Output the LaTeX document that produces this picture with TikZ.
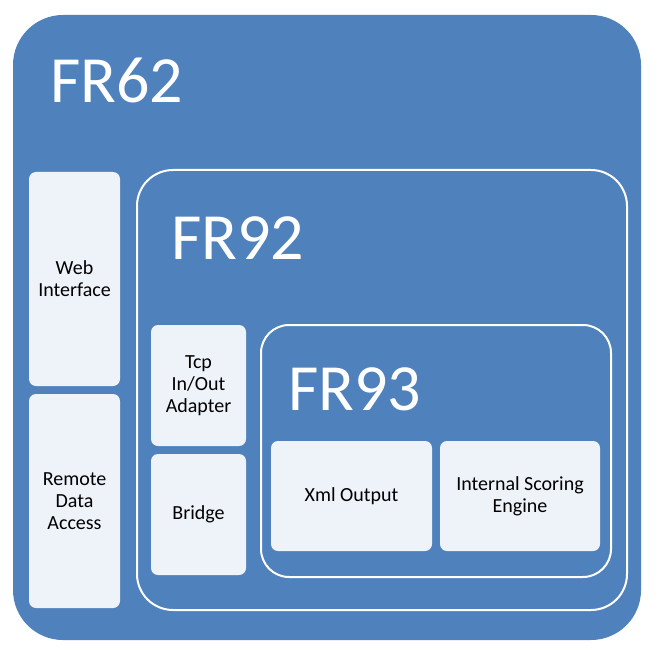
\documentclass[tikz,border=0pt]{standalone}
\usepackage{fontspec}
\setmainfont{Carlito}
\usetikzlibrary{positioning}
\definecolor{FrBlue}{HTML}{4F81BD}
\definecolor{BoxFill}{HTML}{EEF3FA}

\begin{document}
\begin{tikzpicture}[x=1pt, y=-1pt]
  \useasboundingbox (0,0) rectangle (660,660);
  \tikzset{FrameStyle/.style = {shape=rectangle, inner sep=0pt, fill=FrBlue}}
  \tikzset{InnerFrameStyle/.style = {shape=rectangle, inner sep=0pt, draw=white, line width=2pt}}
  \tikzset{PartStyle/.style = {shape=rectangle, inner sep=0pt, fill=BoxFill, rounded corners=7pt,
                               text=black, align=center, font=\fontsize{20}{22}\selectfont}}
  \tikzset{TitleStyle/.style = {anchor=base west, inner sep=0pt, text=white, font=\fontsize{66}{66}\selectfont}}

  % frames
  \node(fr62)[FrameStyle, rounded corners=50pt, minimum width=628pt, minimum height=625pt] at (327,327.5) {};
  \node(fr92)[InnerFrameStyle, rounded corners=36pt, minimum width=490pt, minimum height=440pt] at (382,390) {};
  \node(fr93)[InnerFrameStyle, rounded corners=28pt, minimum width=350pt, minimum height=252pt] at (436,451) {};

  % titles
  \node(t62)[TitleStyle] at (50,103) {FR62};
  \node(t92)[TitleStyle] at (171,259) {FR92};
  \node(t93)[TitleStyle] at (288,410) {FR93};

  % parts
  \node(web)[PartStyle, minimum width=91pt, minimum height=214pt] at (74.5,279) {Web\\Interface};
  \node(rda)[PartStyle, minimum width=91pt, minimum height=214pt] at (74.5,501) {Remote\\Data\\Access};
  \node(tcp)[PartStyle, minimum width=95pt, minimum height=121pt] at (198.5,385.5) {Tcp\\In/Out\\Adapter};
  \node(bridge)[PartStyle, minimum width=95pt, minimum height=121pt] at (198.5,514.5) {Bridge};
  \node(xml)[PartStyle, minimum width=161pt, minimum height=110pt] at (351.5,496) {Xml Output};
  \node(ise)[PartStyle, minimum width=160pt, minimum height=110pt] at (520,496) {Internal Scoring\\Engine};

\end{tikzpicture}
\end{document}
